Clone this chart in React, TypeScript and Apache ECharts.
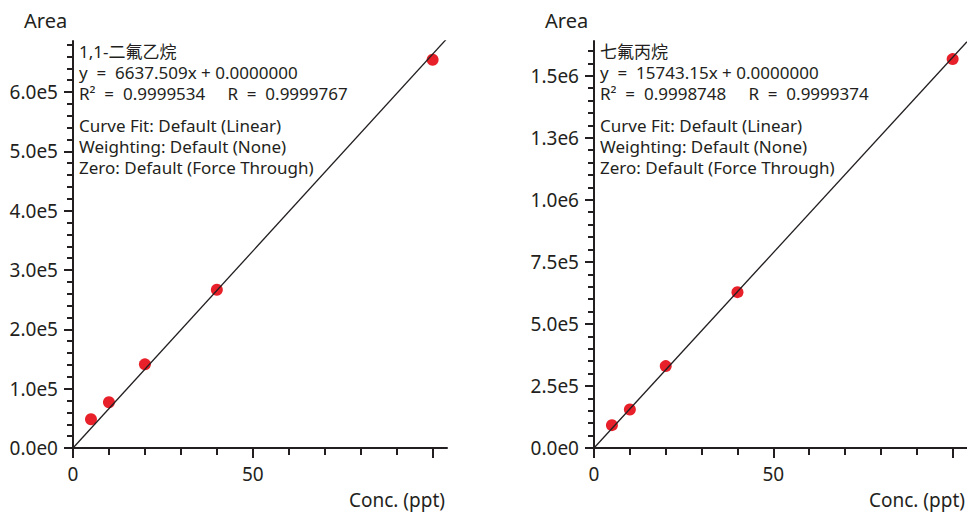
import React, { useEffect, useRef } from "react";
import * as echarts from "echarts";

// ---- data ----
const concentrations = [5, 10, 20, 40, 100];
const areaDFE = [48500, 77000, 141000, 266800, 654400]; // 1,1-二氟乙烷
const areaHFP = [92000, 155000, 330000, 628000, 1567000]; // 七氟丙烷
const slopeDFE = 6637.509;
const slopeHFP = 15743.15;

const xMajorTicks = [0, 50, 100];
const xLabelTicks = [0, 50];
const xMinorTicks = [10, 20, 30, 40, 60, 70, 80, 90];

const yMajorDFE = [0, 100000, 200000, 300000, 400000, 500000, 600000];
const yMinorDFE = [20000, 40000, 60000, 80000, 120000, 140000, 160000, 180000, 220000, 240000, 260000, 280000, 320000, 340000, 360000, 380000, 420000, 440000, 460000, 480000, 520000, 540000, 560000, 580000, 620000, 640000, 660000, 680000];
const yMajorHFP = [0, 250000, 500000, 750000, 1000000, 1250000, 1500000];
const yMinorHFP = [50000, 100000, 150000, 200000, 300000, 350000, 400000, 450000, 550000, 600000, 650000, 700000, 800000, 850000, 900000, 950000, 1050000, 1100000, 1150000, 1200000, 1300000, 1350000, 1400000, 1450000, 1550000, 1600000];

const textDFE = [
  "1,1-二氟乙烷",
  "y  =  6637.509x + 0.0000000",
  "R²  =  0.9999534     R  =  0.9999767",
];
const textHFP = [
  "七氟丙烷",
  "y  =  15743.15x + 0.0000000",
  "R²  =  0.9998748     R  =  0.9999374",
];
const fitText = [
  "Curve Fit: Default (Linear)",
  "Weighting: Default (None)",
  "Zero: Default (Force Through)",
];

const X_MAX = 104;
const Y_MAX_DFE = 686000;
const Y_MAX_HFP = 1640000;

const FONT = '"Noto Sans", "Noto Sans CJK SC", sans-serif';
const INK = "#231f20";
const RED = "#e8202a";

const fmtExp = (v: number) => v.toExponential(1).replace("e+", "e");

function makeAxes(gridIndex: number, yMax: number, yMajor: number[], yMinor: number[]) {
  const xAxes = [
    {
      type: "value",
      gridIndex,
      min: 0,
      max: X_MAX,
      axisLine: { show: true, lineStyle: { color: INK, width: 2 } },
      axisTick: { show: true, customValues: xMajorTicks, length: 10, lineStyle: { color: INK, width: 2 } },
      axisLabel: {
        show: true,
        customValues: xLabelTicks,
        margin: 16,
        color: INK,
        fontSize: 19,
        fontFamily: FONT,
      },
      splitLine: { show: false },
    },
    {
      type: "value",
      gridIndex,
      position: "bottom",
      min: 0,
      max: X_MAX,
      axisLine: { show: false },
      axisTick: { show: true, customValues: xMinorTicks, length: 7, lineStyle: { color: INK, width: 2 } },
      axisLabel: { show: false },
      splitLine: { show: false },
    },
  ];
  const yAxes = [
    {
      type: "value",
      gridIndex,
      min: 0,
      max: yMax,
      axisLine: { show: true, lineStyle: { color: INK, width: 2 } },
      axisTick: { show: true, customValues: yMajor, length: 9, lineStyle: { color: INK, width: 2 } },
      axisLabel: {
        show: true,
        customValues: yMajor,
        formatter: fmtExp,
        margin: 15,
        color: INK,
        fontSize: 19,
        fontFamily: FONT,
      },
      splitLine: { show: false },
    },
    {
      type: "value",
      gridIndex,
      position: "left",
      min: 0,
      max: yMax,
      axisLine: { show: false },
      axisTick: { show: true, customValues: yMinor, length: 6, lineStyle: { color: INK, width: 2 } },
      axisLabel: { show: false },
      splitLine: { show: false },
    },
  ];
  return { xAxes, yAxes };
}

function textBlock(x: number, lines: string[], fits: string[]) {
  const els: any[] = [];
  const ys1 = [51, 72, 93];
  const ys2 = [125, 146, 167];
  const style = { fill: INK, fontSize: 17, fontFamily: FONT, verticalAlign: "middle", align: "left" };
  lines.forEach((t, i) => els.push({ type: "text", x, y: ys1[i], style: { ...style, text: t } }));
  fits.forEach((t, i) => els.push({ type: "text", x, y: ys2[i], style: { ...style, text: t } }));
  return els;
}

export default function App() {
  const ref = useRef<HTMLDivElement>(null);
  useEffect(() => {
    if (!ref.current) return;
    const chart = echarts.init(ref.current, undefined, { renderer: "svg" });
    const a = makeAxes(0, Y_MAX_DFE, yMajorDFE, yMinorDFE);
    const b = makeAxes(1, Y_MAX_HFP, yMajorHFP, yMinorHFP);
    const titleStyle = { fill: INK, fontSize: 20, fontFamily: FONT, verticalAlign: "middle" };
    const concStyle = { fill: INK, fontSize: 19, fontFamily: FONT, verticalAlign: "middle", align: "right" };

    const option: any = {
      animation: false,
      backgroundColor: "#ffffff",
      grid: [
        { left: 73, top: 41, width: 374, height: 407, containLabel: false },
        { left: 594, top: 41, width: 373, height: 407, containLabel: false },
      ],
      xAxis: [...a.xAxes, ...b.xAxes],
      yAxis: [...a.yAxes, ...b.yAxes],
      series: [
        {
          type: "scatter",
          xAxisIndex: 0,
          yAxisIndex: 0,
          data: concentrations.map((c, i) => [c, areaDFE[i]]),
          symbolSize: 12,
          itemStyle: { color: RED, opacity: 1 },
          z: 2,
        },
        {
          type: "line",
          xAxisIndex: 0,
          yAxisIndex: 0,
          data: [
            [0, 0],
            [X_MAX, slopeDFE * X_MAX],
          ],
          showSymbol: false,
          symbol: "none",
          lineStyle: { color: INK, width: 1.3 },
          clip: true,
          z: 3,
        },
        {
          type: "scatter",
          xAxisIndex: 2,
          yAxisIndex: 2,
          data: concentrations.map((c, i) => [c, areaHFP[i]]),
          symbolSize: 12,
          itemStyle: { color: RED, opacity: 1 },
          z: 2,
        },
        {
          type: "line",
          xAxisIndex: 2,
          yAxisIndex: 2,
          data: [
            [0, 0],
            [X_MAX, slopeHFP * X_MAX],
          ],
          showSymbol: false,
          symbol: "none",
          lineStyle: { color: INK, width: 1.3 },
          clip: true,
          z: 3,
        },
      ],
      graphic: [
        { type: "text", x: 24, y: 20, style: { ...titleStyle, text: "Area" } },
        { type: "text", x: 545, y: 20, style: { ...titleStyle, text: "Area" } },
        { type: "text", x: 445, y: 500, style: { ...concStyle, text: "Conc. (ppt)" } },
        { type: "text", x: 965, y: 500, style: { ...concStyle, text: "Conc. (ppt)" } },
        ...textBlock(79, textDFE, fitText),
        ...textBlock(600, textHFP, fitText),
      ],
    };
    chart.setOption(option);
    return () => chart.dispose();
  }, []);
  return (
    <div
      ref={ref}
      style={{ position: "fixed", left: 0, top: 0, width: 967, height: 513, background: "#fff" }}
    />
  );
}
